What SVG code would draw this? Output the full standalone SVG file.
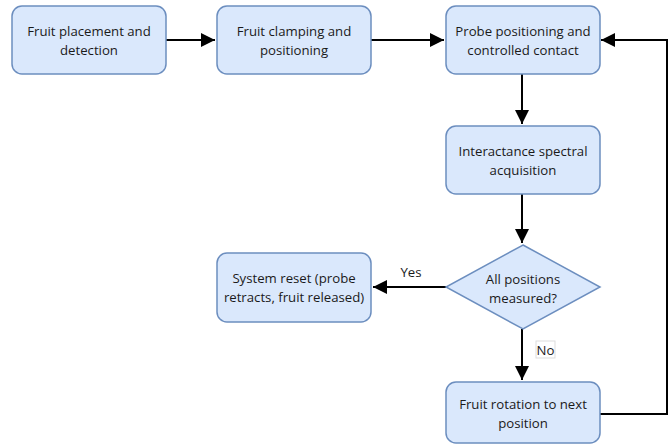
<svg xmlns="http://www.w3.org/2000/svg" width="672" height="445" viewBox="0 0 672 445">
<defs>
<marker id="ah" viewBox="0 0 10 10" refX="10" refY="5" markerWidth="7" markerHeight="7" markerUnits="strokeWidth" orient="auto">
<path d="M0,0 L10,5 L0,10 Z" fill="#000"/>
</marker>
<style>
.box{fill:#dae8fc;stroke:#6c8ebf;stroke-width:1.5}
.t{font-family:"Open Sans","Noto Sans",sans-serif;font-size:13.2px;fill:#1a1a1a;text-anchor:middle}
.c{fill:none;stroke:#000;stroke-width:2}
</style>
</defs>
<rect width="672" height="445" fill="#fff"/>
<g id="connectors">
<path class="c" d="M166,40 H215" marker-end="url(#ah)"/>
<path class="c" d="M371,40 H444" marker-end="url(#ah)"/>
<path class="c" d="M522,74 V124" marker-end="url(#ah)"/>
<path class="c" d="M522,194 V243" marker-end="url(#ah)"/>
<path class="c" d="M446,287 H373" marker-end="url(#ah)"/>
<path class="c" d="M522,329 V380" marker-end="url(#ah)"/>
<path class="c" d="M600,414 H667 V40 H601" marker-end="url(#ah)"/>
<text class="t" x="411" y="277">Yes</text>
<rect x="536" y="341" width="19" height="17" fill="#fff" stroke="#ddd" stroke-width="1"/>
<text class="t" x="545.5" y="354.5">No</text>
</g>
<g id="n1"><rect class="box" x="12" y="6" width="154" height="68" rx="10"/>
<text class="t" x="89" y="36">Fruit placement and</text><text class="t" x="89" y="55">detection</text></g>
<g id="n2"><rect class="box" x="217" y="6" width="154" height="68" rx="10"/>
<text class="t" x="294" y="36">Fruit clamping and</text><text class="t" x="294" y="55">positioning</text></g>
<g id="n3"><rect class="box" x="446" y="6" width="154" height="68" rx="10"/>
<text class="t" x="523" y="36">Probe positioning and</text><text class="t" x="523" y="55">controlled contact</text></g>
<g id="n4"><rect class="box" x="446" y="126" width="154" height="68" rx="10"/>
<text class="t" x="523" y="156">Interactance spectral</text><text class="t" x="523" y="175">acquisition</text></g>
<g id="n5"><path class="box" d="M523,245 L600,287 L523,329 L446,287 Z"/>
<text class="t" x="523" y="284">All positions</text><text class="t" x="523" y="303">measured?</text></g>
<g id="n6"><rect class="box" x="217" y="253" width="154" height="69" rx="10"/>
<text class="t" x="294" y="283">System reset (probe</text><text class="t" x="294" y="302">retracts, fruit released)</text></g>
<g id="n7"><rect class="box" x="446" y="382" width="154" height="61" rx="10"/>
<text class="t" x="523" y="409">Fruit rotation to next</text><text class="t" x="523" y="428">position</text></g>
</svg>
